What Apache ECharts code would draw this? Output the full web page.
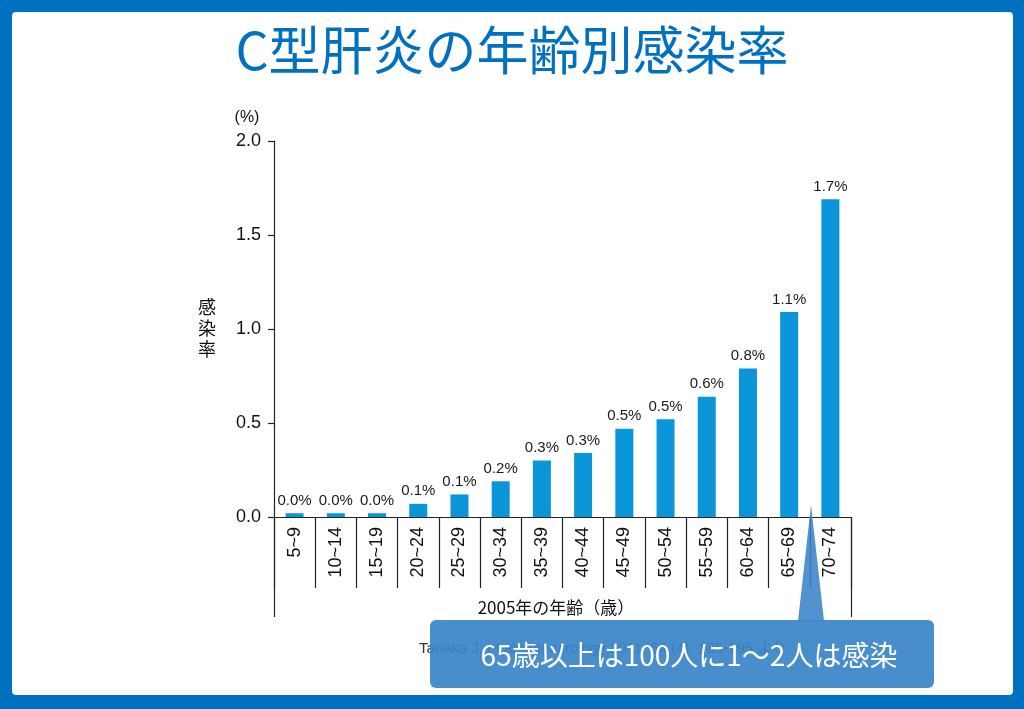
<!DOCTYPE html>
<html><head><meta charset="utf-8">
<script src="https://cdn.jsdelivr.net/npm/echarts@6/dist/echarts.min.js"></script>
<style>html,body{margin:0;padding:0;background:#0070c0;}#c{width:1024px;height:709px;}</style>
</head><body><div id="c"></div>
<script>
const categories = ['5~9','10~14','15~19','20~24','25~29','30~34','35~39','40~44','45~49','50~54','55~59','60~64','65~69','70~74'];
const values = [0.02,0.02,0.02,0.07,0.12,0.19,0.30,0.34,0.47,0.52,0.64,0.79,1.09,1.69];
const valueLabels = ['0.0%','0.0%','0.0%','0.1%','0.1%','0.2%','0.3%','0.3%','0.5%','0.5%','0.6%','0.8%','1.1%','1.7%'];
const yTicks = [0, 0.5, 1.0, 1.5, 2.0];
const titleText = 'C型肝炎の年齢別感染率';
const xName = '2005年の年齢（歳）';
const yName = ['感', '染', '率'];
const yUnit = '(%)';
const sourceText = 'Tanaka J, et al. Intervirology 2011; 54 (4): 185-195 より';
const calloutText = '65歳以上は100人に1～2人は感染';

const FONT = '"Liberation Sans", Arial, "Noto Sans CJK JP", sans-serif';
const JP = '"Noto Sans CJK JP", sans-serif';
const chart = echarts.init(document.getElementById('c'));
const yNameTexts = yName.map((ch, i) => ({
  type: 'text', x: 207, y: 307 + i * 21,
  style: { text: ch, fontSize: 18, fill: '#111', fontFamily: JP, textAlign: 'center', textVerticalAlign: 'middle' }
}));
chart.setOption({
  backgroundColor: '#0070c0',
  animation: false,
  title: {
    text: titleText, left: 'center', top: 19,
    textStyle: { color: '#0070c0', fontSize: 52, fontWeight: 'normal', fontFamily: JP }
  },
  grid: { left: 274, right: 173, top: 141, bottom: 192 },
  xAxis: {
    type: 'category', data: categories, boundaryGap: true,
    axisLine: { lineStyle: { color: '#222', width: 1.2 } },
    axisTick: { show: true, interval: 0, length: 71, lineStyle: { color: '#222', width: 1.2 } },
    axisLabel: { interval: 0, rotate: 90, margin: 10, fontSize: 18, color: '#111', fontFamily: FONT }
  },
  yAxis: {
    type: 'value', min: 0, max: 2.0, interval: 0.5,
    splitLine: { show: false },
    axisLine: { show: true, lineStyle: { color: '#222', width: 1.2 } },
    axisTick: { show: true, length: 6, lineStyle: { color: '#222', width: 1.2 } },
    axisLabel: { margin: 13, fontSize: 18, color: '#111', fontFamily: FONT,
      formatter: v => yTicks.indexOf(v) >= 0 ? v.toFixed(1) : '' }
  },
  series: [{
    type: 'bar', data: values, barWidth: 18,
    itemStyle: { color: '#0a96d9' },
    label: { show: true, position: 'top', distance: 5, fontSize: 15, color: '#1a1a1a', fontFamily: FONT,
      formatter: p => valueLabels[p.dataIndex] }
  }],
  graphic: [
    { type: 'rect', z: -10, shape: { x: 12, y: 12, width: 1001, height: 683, r: 4 }, style: { fill: '#ffffff' } },
    { type: 'line', shape: { x1: 274.5, y1: 517, x2: 274.5, y2: 617 }, style: { stroke: '#222', lineWidth: 1.2 } },
    { type: 'line', shape: { x1: 851.5, y1: 517, x2: 851.5, y2: 617 }, style: { stroke: '#222', lineWidth: 1.2 } },
    { type: 'text', x: 247, y: 118, style: { text: yUnit, fontSize: 16, fill: '#111', fontFamily: FONT, textAlign: 'center', textVerticalAlign: 'middle' } },
    ...yNameTexts,
    { type: 'text', x: 556, y: 608, style: { text: xName, fontSize: 17, fill: '#111', fontFamily: JP, textAlign: 'center', textVerticalAlign: 'middle' } },
    { type: 'text', x: 419, y: 649, style: { text: sourceText, fontSize: 15, fill: '#333', fontFamily: FONT, textAlign: 'left', textVerticalAlign: 'middle' } },
    { type: 'rect', z: 100, shape: { x: 430, y: 620, width: 504, height: 68, r: 6 }, style: { fill: 'rgba(58,132,200,0.93)' } },
    { type: 'polygon', z: 100, shape: { points: [[811, 505], [798, 621], [824, 621]] }, style: { fill: 'rgba(58,132,200,0.88)' } },
    { type: 'text', z: 101, x: 689, y: 655, style: { text: calloutText, fontSize: 28, fill: '#ffffff', fontFamily: JP, textAlign: 'center', textVerticalAlign: 'middle' } }
  ]
});
</script></body></html>
